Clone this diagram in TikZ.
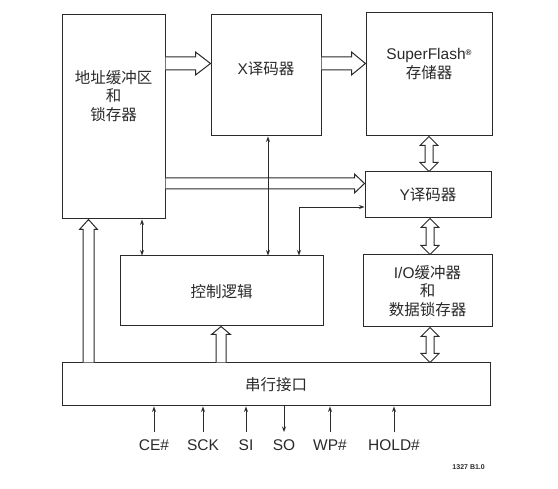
\documentclass[tikz,border=0pt]{standalone}
\usepackage{fontspec}
\setmainfont{Liberation Sans}
\newfontfamily\cjk{Noto Sans CJK SC}
\usetikzlibrary{calc,arrows.meta}
\definecolor{ink}{HTML}{2A2A2A}
\tikzset{
  box/.style={draw=ink, line width=1pt, fill=white, inner sep=0pt},
  txt/.style={text=ink, font=\fontsize{15.5}{18.5}\selectfont, align=center, inner sep=0pt},
  hollowline/.style={draw=ink, line width=1pt, fill=white, line join=miter},
  sig/.style={draw=ink, line width=0.8pt},
  tip/.style={-{Stealth[length=5.5pt,width=4pt]}},
  tips/.style={{Stealth[length=5.5pt,width=4pt]}-{Stealth[length=5.5pt,width=4pt]}}
}
% single hollow arrow: start, end, shaft half width, head half width, head length
\newcommand\hollowone[5]{%
  \path (#1) coordinate (hS) (#2) coordinate (hE);
  \path ($(hE)!#5!(hS)$) coordinate (hB);
  \draw[hollowline] ($(hS)!#3!90:(hE)$) -- ($(hB)!#3!-90:(hS)$) -- ($(hB)!#4!-90:(hS)$) -- (hE)
     -- ($(hB)!#4!90:(hS)$) -- ($(hB)!#3!90:(hS)$) -- ($(hS)!#3!-90:(hE)$);}
% double hollow arrow
\newcommand\hollowtwo[5]{%
  \path (#1) coordinate (hS) (#2) coordinate (hE);
  \path ($(hS)!#5!(hE)$) coordinate (hA) ($(hE)!#5!(hS)$) coordinate (hB);
  \draw[hollowline] (hS) -- ($(hA)!#4!90:(hE)$) -- ($(hA)!#3!90:(hE)$) -- ($(hB)!#3!-90:(hS)$)
     -- ($(hB)!#4!-90:(hS)$) -- (hE) -- ($(hB)!#4!90:(hS)$) -- ($(hB)!#3!90:(hS)$)
     -- ($(hA)!#3!-90:(hE)$) -- ($(hA)!#4!-90:(hE)$) -- cycle;}
\begin{document}
\begin{tikzpicture}[x=1pt,y=-1pt]
\useasboundingbox[fill=white] (0,0) rectangle (558,489);
% boxes
\node[box, minimum width=103pt, minimum height=204pt] (addr) at (113.5,117) {};
\node[box, minimum width=110pt, minimum height=121pt] (xdec) at (266,75.5) {};
\node[box, minimum width=126pt, minimum height=123pt] (flash) at (429,74.5) {};
\node[box, minimum width=126pt, minimum height=46pt] (ydec) at (428,195) {};
\node[box, minimum width=203pt, minimum height=70pt] (ctrl) at (221.5,291) {};
\node[box, minimum width=129pt, minimum height=72pt] (io) at (427.5,291) {};
\node[box, minimum width=428pt, minimum height=43pt] (serial) at (276,384.5) {};
% texts
\node[txt] (addrt) at (113.5,96) {\cjk 地址缓冲区\\\cjk 和\\\cjk 锁存器};
\node[txt] (xdect) at (266,69) {X\cjk 译码器};
\node[txt] (flasht) at (429,64) {SuperFlash\raisebox{0.55ex}{\fontsize{8}{8}\selectfont\bfseries ®}\\\cjk 存储器};
\node[txt] (ydect) at (428,195) {Y\cjk 译码器};
\node[txt] (ctrlt) at (221.5,292) {\cjk 控制逻辑};
\node[txt] (iot) at (427.5,291) {I/O\cjk 缓冲器\\\cjk 和\\\cjk 数据锁存器};
\node[txt] (serialt) at (276,385) {\cjk 串行接口};
% hollow arrows
\hollowone{addr.east |- 0,63.5}{xdec.west |- 0,63.5}{6.5pt}{11.5pt}{15pt}
\hollowone{xdec.east |- 0,63.5}{flash.west |- 0,63.5}{6.5pt}{11.5pt}{14pt}
\hollowone{addr.east |- 0,183.5}{ydec.west |- 0,183.5}{5.5pt}{9.5pt}{10pt}
\hollowone{88.5,0 |- serial.north}{88.5,0 |- addr.south}{5.5pt}{9pt}{10pt}
\hollowone{221,0 |- serial.north}{221,0 |- ctrl.south}{5pt}{9.5pt}{8pt}
\hollowtwo{429,0 |- flash.south}{429,0 |- ydec.north}{4pt}{9pt}{9pt}
\hollowtwo{430,0 |- ydec.south}{430,0 |- io.north}{4pt}{9pt}{9pt}
\hollowtwo{430,0 |- io.south}{430,0 |- serial.north}{4pt}{9pt}{9pt}
% thin connectors
\draw[sig,tips] (142,0 |- addr.south) -- (142,0 |- ctrl.north);
\draw[sig,tips] (268,0 |- xdec.south) -- (268,0 |- ctrl.north);
\draw[sig,tips] (299,0 |- ctrl.north) |- (ydec.west |- 0,207);
% signals
\foreach \n/\x/\t in {ce/154/CE\#, sck/203/SCK, si/246/SI, so/284/SO, wp/330/WP\#, hold/394/HOLD\#}{
  \node[txt, anchor=base] (\n) at (\x,451) {\t};
}
\foreach \n/\x in {ce/154, sck/203, si/246, wp/330, hold/394}{
  \draw[sig,tip] (\x,432) -- (\x,0 |- serial.south);
}
\draw[sig,tip] (284,0 |- serial.south) -- (284,432);
\node[text=ink, font=\fontsize{7}{8}\selectfont\bfseries, anchor=base east, inner sep=0pt] (code) at (485,470) {1327 B1.0};
\end{tikzpicture}
\end{document}
